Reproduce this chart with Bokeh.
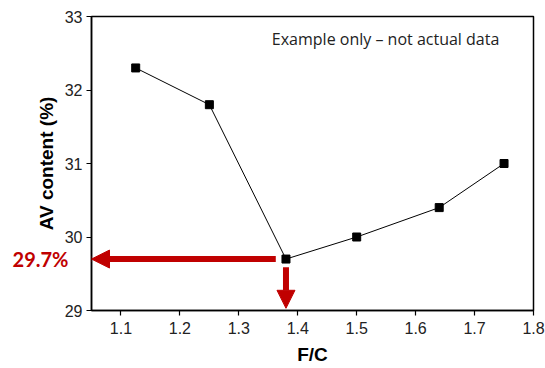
from bokeh.plotting import figure
from bokeh.models import Arrow, NormalHead, Label, Range1d, LinearAxis, FixedTicker
from bokeh.embed import file_html
from bokeh.resources import INLINE

fc = [1.125, 1.25, 1.38, 1.5, 1.64, 1.75]
av = [32.3, 31.8, 29.7, 30.0, 30.4, 31.0]
x_ticks = [1.1, 1.2, 1.3, 1.4, 1.5, 1.6, 1.7, 1.8]
y_ticks = [29, 30, 31, 32, 33]
note = "Example only \u2013 not actual data"
min_label = "29.7%"

RED = "#C00000"
AX_FONT = "Liberation Sans"

p = figure(width=545, height=368, output_backend="svg", toolbar_location=None,
           x_range=Range1d(1.05, 1.8), y_range=Range1d(29, 33),
           min_border_left=91, min_border_right=12, min_border_top=16, min_border_bottom=58)
p.grid.visible = False
p.outline_line_color = "black"
p.outline_line_width = 1.5
p.background_fill_color = "white"
p.border_fill_color = "white"

for ax in (p.xaxis[0], p.yaxis[0]):
    ax.axis_line_width = 1.5
    ax.axis_line_color = "black"
    ax.major_tick_line_width = 1.2
    ax.major_tick_in = 0
    ax.major_tick_out = 5
    ax.minor_tick_line_color = None
    ax.major_label_text_font = AX_FONT
    ax.major_label_text_font_size = "16px"
    ax.major_label_text_color = "#222222"
    ax.axis_label_text_font = AX_FONT
    ax.axis_label_text_font_style = "bold"
    ax.axis_label_text_font_size = "19px"
    ax.axis_label_text_color = "black"

p.xaxis.ticker = x_ticks
p.yaxis.ticker = y_ticks
p.xaxis.axis_label = "F/C"
p.yaxis.axis_label = "AV content (%)"
p.xaxis.major_label_standoff = 6
p.yaxis.major_label_standoff = 4
p.xaxis.axis_label_standoff = 7
p.yaxis.axis_label_standoff = 5

p.line(fc, av, line_color="black", line_width=1)
p.scatter(fc, av, marker="square", size=8, color="black")

i_min = av.index(min(av))
xm, ym = fc[i_min], av[i_min]

p.add_layout(Arrow(end=NormalHead(size=18, fill_color=RED, line_color=RED, line_width=1),
                   x_start=xm - 0.0173, y_start=ym, x_end=p.x_range.start, y_end=ym,
                   line_color=RED, line_width=6))
p.add_layout(Arrow(end=NormalHead(size=18, fill_color=RED, line_color=RED, line_width=1),
                   x_start=xm, y_start=ym - 0.111, x_end=xm, y_end=29.03,
                   line_color=RED, line_width=6))

# red value label drawn as an extra (line-less) left axis
red_ax = LinearAxis(ticker=FixedTicker(ticks=[ym]),
                    major_label_overrides={ym: min_label},
                    axis_line_color=None, major_tick_line_color=None,
                    minor_tick_line_color=None, major_tick_out=0, major_tick_in=0,
                    major_label_standoff=-36,
                    major_label_text_font="Lato", major_label_text_font_style="bold",
                    major_label_text_font_size="20px", major_label_text_color=RED)
p.add_layout(red_ax, "left")

p.add_layout(Label(x=1.549, y=32.7, text=note, text_align="center",
                   text_baseline="middle", text_font="Open Sans",
                   text_font_size="16px", text_color="#222222"))

open("out.html", "w").write(file_html(p, INLINE))
